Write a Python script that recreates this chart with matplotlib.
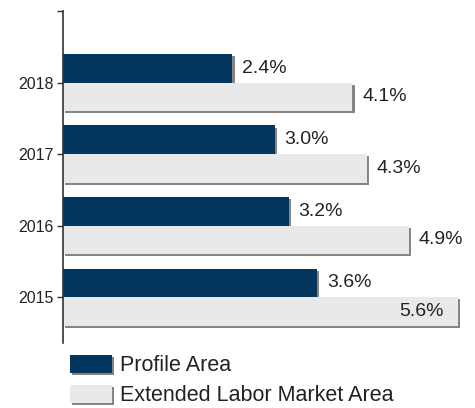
import matplotlib
matplotlib.use("Agg")
import matplotlib.pyplot as plt
import matplotlib.patheffects as pe
from matplotlib.patches import Patch

years = ["2015", "2016", "2017", "2018"]
profile = [3.6, 3.2, 3.0, 2.4]
extended = [5.6, 4.9, 4.3, 4.1]
series_names = ["Profile Area", "Extended Labor Market Area"]

DARK = "#02365f"
LIGHT = "#e9e9e9"
TXT = "#222222"

plt.rcParams['font.family'] = ['Liberation Sans', 'DejaVu Sans']

W, H = 475, 408
fig = plt.figure(figsize=(W / 100, H / 100), dpi=100)
ax = fig.add_axes([63 / W, (H - 343) / H, (470 - 63) / W, (343 - 11) / H])

shadow = [pe.SimplePatchShadow(offset=(1.5, -1.5), shadow_rgbFace='#858585', alpha=1.0), pe.Normal()]

ypos = list(range(len(years)))
bh = 0.4
b1 = ax.barh([y + bh / 2 for y in ypos], profile, height=bh, color=DARK, linewidth=0)
b2 = ax.barh([y - bh / 2 for y in ypos], extended, height=bh, color=LIGHT, linewidth=0)
for b in list(b1) + list(b2):
    b.set_path_effects(shadow)

xmax = (470 - 63) / 70.6
ax.set_xlim(0, xmax)
ax.set_ylim(-0.64, 4.0)

fs_val = 14
for y, v in zip(ypos, profile):
    ax.annotate(f"{v:.1f}%", (v, y + bh / 2), xytext=(7, 0), textcoords='offset points',
                ha='left', va='center', fontsize=fs_val, color=TXT)
for y, v in zip(ypos, extended):
    if v > 5.3:
        ax.annotate(f"{v:.1f}%", (v, y - bh / 2), xytext=(-10.5, 0), textcoords='offset points',
                    ha='right', va='center', fontsize=fs_val, color=TXT)
    else:
        ax.annotate(f"{v:.1f}%", (v, y - bh / 2), xytext=(7, 0), textcoords='offset points',
                    ha='left', va='center', fontsize=fs_val, color=TXT)

ax.set_yticks(ypos + [4.0])
ax.set_yticklabels(years + [""], fontsize=11.5, color=TXT)
ax.tick_params(axis='y', length=4, width=1, pad=3, color='#333333')
ax.set_xticks([])
for s in ['top', 'right', 'bottom']:
    ax.spines[s].set_visible(False)
ax.spines['left'].set_color('#333333')
ax.spines['left'].set_linewidth(1.2)

handles = [Patch(facecolor=DARK, linewidth=0, path_effects=shadow),
           Patch(facecolor=LIGHT, linewidth=0, path_effects=shadow)]
fig.legend(handles, series_names, loc='upper left', bbox_to_anchor=(70 / W, 1 - 355 / H),
           frameon=False, fontsize=15.5, handlelength=1.95, handleheight=0.92,
           handletextpad=0.36, labelspacing=0.38, borderpad=0, borderaxespad=0,
           labelcolor=TXT)

fig.savefig("out.png", dpi=100)
